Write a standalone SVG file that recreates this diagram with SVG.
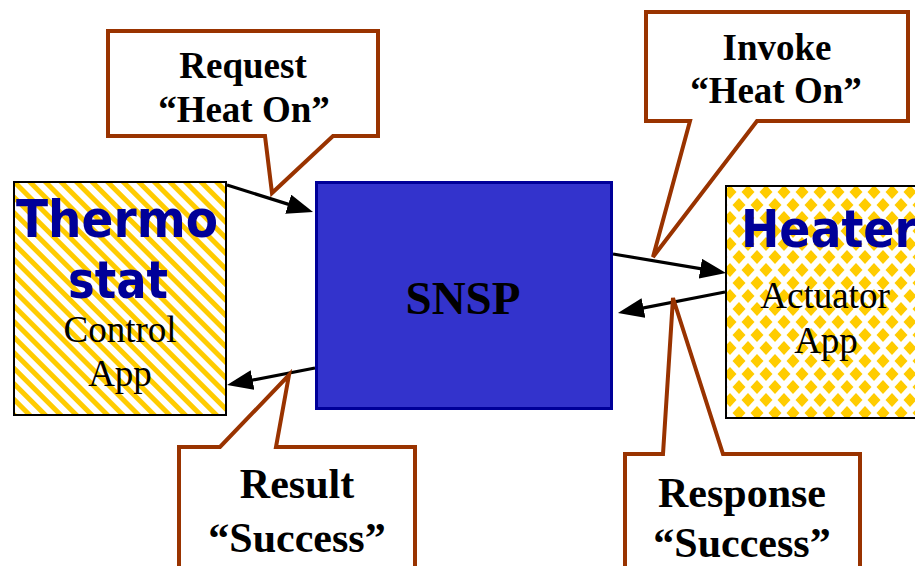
<svg xmlns="http://www.w3.org/2000/svg" width="915" height="566" viewBox="0 0 915 566">
  <style>
    .bg { fill: #ffffff; }
    .app { stroke: #000000; stroke-width: 2; }
    .hub { fill: #3333cc; stroke: #000099; stroke-width: 3; }
    .title { font-family: "DejaVu Sans", Verdana, sans-serif; font-weight: bold; font-size: 52px; fill: #000099; text-anchor: middle; }
    .sub { font-family: "Liberation Serif", "Times New Roman", serif; font-size: 37px; fill: #000000; text-anchor: middle; }
    .hubtxt { font-family: "Liberation Serif", "Times New Roman", serif; font-weight: bold; font-size: 47px; fill: #000000; text-anchor: middle; }
    .callout { fill: #ffffff; stroke: #993300; stroke-width: 4; stroke-linejoin: miter; }
    .ctxt { font-family: "Liberation Serif", "Times New Roman", serif; font-weight: bold; font-size: 37px; fill: #000000; text-anchor: middle; }
    .ctxt-lg { font-size: 42px; }
    .conn { stroke: #000000; stroke-width: 3.2; fill: none; marker-end: url(#head); }
  </style>
  <defs>
    <!-- diagonal yellow/white stripes -->
    <pattern id="stripes" width="11" height="11" patternUnits="userSpaceOnUse" patternTransform="rotate(-45)">
      <rect width="11" height="11" fill="#ffffff"/>
      <rect width="5" height="11" fill="#ffcc00"/>
    </pattern>
    <!-- yellow diamonds on white -->
    <pattern id="diamonds" width="18" height="26" patternUnits="userSpaceOnUse" x="730" y="192">
      <rect width="18" height="26" fill="#ffffff"/>
      <polygon points="9,6 15.5,13 9,20 2.5,13" fill="#ffcc00"/>
      <polygon points="0,-7 6.5,0 0,7 -6.5,0" fill="#ffcc00"/>
      <polygon points="18,-7 24.5,0 18,7 11.5,0" fill="#ffcc00"/>
      <polygon points="0,19 6.5,26 0,33 -6.5,26" fill="#ffcc00"/>
      <polygon points="18,19 24.5,26 18,33 11.5,26" fill="#ffcc00"/>
    </pattern>
    <marker id="head" viewBox="0 0 26 20" refX="18" refY="10" markerWidth="26" markerHeight="20" markerUnits="userSpaceOnUse" orient="auto">
      <path d="M0,0 L26,10 L0,20 Z" fill="#000000"/>
    </marker>
  </defs>

  <rect class="bg" x="0" y="0" width="915" height="566"/>

  <!-- message connectors -->
  <g id="connectors">
    <line class="conn" x1="227" y1="185" x2="305.4" y2="209.6"/>
    <line class="conn" x1="315" y1="368" x2="234.9" y2="383.5"/>
    <line class="conn" x1="613" y1="254" x2="718.1" y2="271.6"/>
    <line class="conn" x1="725" y1="292" x2="625.8" y2="311.4"/>
  </g>

  <g id="thermostat">
    <rect class="app" x="14" y="182" width="212" height="233" fill="url(#stripes)"/>
    <text class="title" x="117" y="237" textLength="202" lengthAdjust="spacingAndGlyphs">Thermo</text>
    <text class="title" x="118" y="298" textLength="100" lengthAdjust="spacingAndGlyphs">stat</text>
    <text class="sub" x="120" y="342">Control</text>
    <text class="sub" x="120" y="386">App</text>
  </g>

  <g id="snsp">
    <rect class="hub" x="316.5" y="182.5" width="295" height="226"/>
    <text class="hubtxt" x="463" y="314">SNSP</text>
  </g>

  <g id="heater">
    <rect class="app" x="726" y="186" width="200" height="232" fill="url(#diamonds)"/>
    <text class="title" x="829" y="247" textLength="176" lengthAdjust="spacingAndGlyphs">Heater</text>
    <text class="sub" x="825" y="308">Actuator</text>
    <text class="sub" x="826" y="353">App</text>
  </g>

  <g id="request-callout">
    <path class="callout" d="M108,31 H378 V136 H333 L272,193 L265,136 H108 Z"/>
    <text class="ctxt" x="243" y="78">Request</text>
    <text class="ctxt" x="244" y="122">“Heat On”</text>
  </g>

  <g id="invoke-callout">
    <path class="callout" d="M646,12 H908 V121 H757 L653,257 L690,121 H646 Z"/>
    <text class="ctxt" x="777" y="60">Invoke</text>
    <text class="ctxt" x="776" y="103">“Heat On”</text>
  </g>

  <g id="result-callout">
    <path class="callout" d="M179,447 H220 L289,375 L276,447 H415 V580 H179 Z"/>
    <text class="ctxt ctxt-lg" x="297" y="498">Result</text>
    <text class="ctxt ctxt-lg" x="297" y="552">“Success”</text>
  </g>

  <g id="response-callout">
    <path class="callout" d="M625,454 H663 L673,298 L723,454 H860 V580 H625 Z"/>
    <text class="ctxt ctxt-lg" x="742" y="507">Response</text>
    <text class="ctxt ctxt-lg" x="742" y="557">“Success”</text>
  </g>
</svg>
